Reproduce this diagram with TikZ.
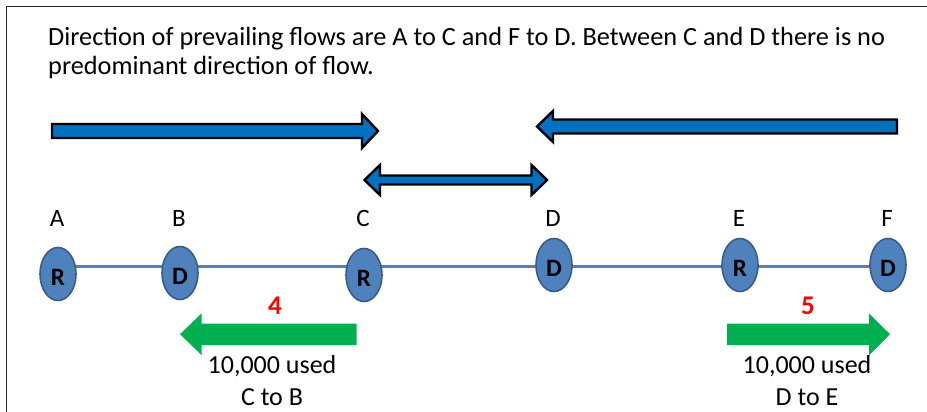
\documentclass[tikz,border=0pt]{standalone}
\usepackage{fontspec}
\setmainfont{Carlito}
\usetikzlibrary{shapes}
\definecolor{flowblue}{HTML}{0070C0}
\definecolor{sitefill}{HTML}{4F81BD}
\definecolor{siteedge}{HTML}{385D8A}
\definecolor{usedgreen}{HTML}{00B050}
\tikzstyle{flowarrow}=[fill=flowblue,draw=black,line width=2.4pt,line join=miter]
\tikzstyle{usedarrow}=[fill=usedgreen]
\tikzstyle{site}=[ellipse,fill=sitefill,draw=siteedge,line width=1.6pt,minimum width=36pt,minimum height=53pt,inner sep=0pt,text height=22pt,text depth=0pt,font=\fontsize{25}{28}\selectfont\bfseries]
\tikzstyle{sitename}=[font=\fontsize{25}{30}\selectfont]
\tikzstyle{link}=[sitefill,line width=3pt]
\tikzstyle{count}=[red,font=\fontsize{27}{32}\selectfont\bfseries]
\tikzstyle{usedtext}=[align=center,font=\fontsize{26}{32}\selectfont]

\begin{document}
\begin{tikzpicture}[x=1pt,y=-1pt]
		\useasboundingbox (0,0) rectangle (927,412);
		\draw[line width=1.5pt,black!85] (6.5,412) -- (6.5,6.5) -- (927,6.5);

		\node[anchor=north west,inner sep=0pt,align=left,font=\fontsize{26.3}{29}\selectfont] (intro) at (48,27)
			{Direction of prevailing flows are A to C and F to D. Between C and D there is no\\predominant direction of flow.};

		% prevailing flows
		\filldraw[flowarrow] (52,124) -- (362,124) -- (362,114) -- (378,131) -- (362,148) -- (362,138) -- (52,138) -- cycle;
		\filldraw[flowarrow] (897,119.5) -- (553,119.5) -- (553,111) -- (537,126.5) -- (553,142) -- (553,133.5) -- (897,133.5) -- cycle;
		\filldraw[flowarrow] (380,175.5) -- (531.5,175.5) -- (531.5,165) -- (547,180) -- (531.5,195) -- (531.5,184.5) -- (380,184.5) -- (380,195) -- (364.5,180) -- (380,165) -- cycle;

		% the line
		\coordinate (lineL) at (58,266);
		\coordinate (lineR) at (888,266);
		\draw[link] (lineL) -- (lineR);

		\foreach \n / \x / \y / \t in {A/58/274/R,B/180/273/D,C/364/275/R,D/554/265/D,E/740/265/R,F/888/265/D} {
			\node[site] (site\n) at (\x,\y) {\t};
			\node[sitename] (name\n) at (\x-1,218) {\n};
		}

		% used capacity
		\fill[usedarrow] (356.5,323.5) -- (201.5,323.5) -- (201.5,313.5) -- (180,334.2) -- (201.5,355) -- (201.5,345) -- (356.5,345) -- cycle;
		\fill[usedarrow] (727,323.5) -- (869,323.5) -- (869,313.5) -- (890,334.2) -- (869,355.5) -- (869,345) -- (727,345) -- cycle;

		\node[count] (countCB) at (275,306) {4};
		\node[count] (countDE) at (808,306) {5};
		\node[usedtext] (usedCB) at (272,381) {10,000 used\\C to B};
		\node[usedtext] (usedDE) at (807,381) {10,000 used\\D to E};
	\end{tikzpicture}
\end{document}
